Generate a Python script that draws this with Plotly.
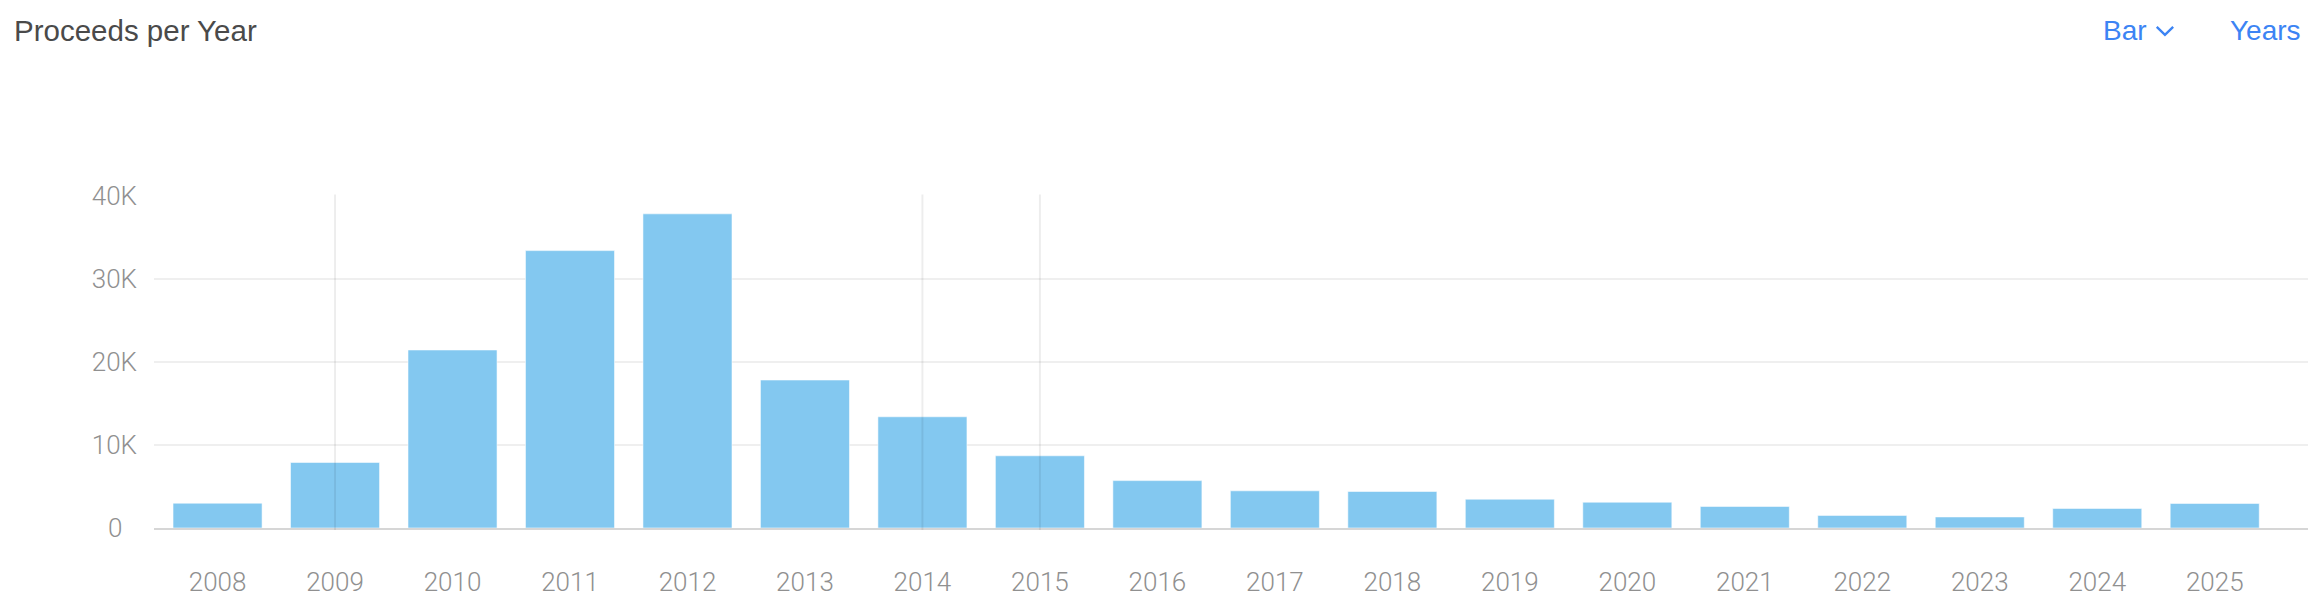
import plotly.graph_objects as go

# ---- data ----
years = [str(y) for y in range(2008, 2026)]
proceeds = [2990, 7900, 21450, 33420, 37850, 17830, 13400, 8700, 5710, 4480,
            4400, 3470, 3110, 2600, 1520, 1330, 2360, 2960]
event_years = ["2009", "2014", "2015"]
y_ticks = [0, 10000, 20000, 30000, 40000]
y_tick_labels = ["0\u2007", "10K", "20K", "30K", "40K"]

title_text = "Proceeds per Year"
ctrl_left = "Bar"
ctrl_right = "Years"

# the page body adds an 8px offset; work in screen pixels and convert
OFF = 8
W, H = 2316 - OFF, 606 - OFF
L, R, T, B = 154.3 - OFF, 2307.7 - OFF, 195.7 - OFF, 529.8 - OFF   # plot area in figure pixels
PW, PH = R - L, B - T

def px(x):
    return (x - OFF - L) / PW

def py(y):
    return (B - (y - OFF)) / PH

BAR_COLOR = "#83C8F0"
BLUE = "#3C84F4"
TICK_GRAY = "#909090"
TICK_FONT = "Roboto"
UI_FONT = "Liberation Sans"

fig = go.Figure()
fig.add_trace(go.Bar(
    x=years, y=proceeds,
    marker=dict(color=BAR_COLOR, line=dict(color="rgba(255,255,255,0.55)", width=1)),
    hoverinfo="x+y",
))

shapes = []
for ey in event_years:
    i = years.index(ey)
    shapes.append(dict(type="line", xref="x", yref="paper", x0=i, x1=i,
                       y0=py(531.7), y1=py(194.3),
                       line=dict(color="rgba(0,0,0,0.07)", width=2), layer="above"))
# dropdown chevron icon
shapes.append(dict(type="path", xref="paper", yref="paper",
                   path=f"M {px(2156.5)} {py(25.5)} L {px(2164.7)} {py(33.5)} L {px(2172.9)} {py(25.5)}",
                   line=dict(color=BLUE, width=2.4)))

annotations = [
    dict(text=ctrl_left, xref="paper", yref="paper", x=px(2101), y=py(29.5),
         xanchor="left", yanchor="middle", showarrow=False,
         font=dict(family=UI_FONT, size=28, color=BLUE)),
    dict(text=ctrl_right, xref="paper", yref="paper", x=px(2228), y=py(29.5),
         xanchor="left", yanchor="middle", showarrow=False,
         font=dict(family=UI_FONT, size=28, color=BLUE)),
]

fig.update_layout(
    width=W, height=H,
    margin=dict(l=L, r=W - R, t=T, b=H - B, pad=0),
    paper_bgcolor="white", plot_bgcolor="white",
    showlegend=False,
    bargap=0.242,
    title=dict(text=title_text, xref="container", yref="container",
               x=(14 - OFF) / W, xanchor="left", y=1 - (31 - OFF) / H, yanchor="middle",
               font=dict(family=UI_FONT, size=29.5, color="#4a4a4a")),
    shapes=shapes,
    annotations=annotations,
    xaxis=dict(
        type="category",
        range=[-0.541, 17.794],
        showgrid=False, zeroline=False,
        showline=True, linecolor="#d6d6d6", linewidth=2,
        ticks="", ticklabelstandoff=30,
        tickfont=dict(family=TICK_FONT, size=26, color=TICK_GRAY, weight=300),
        fixedrange=True,
    ),
    yaxis=dict(
        range=[0, 40000],
        tickvals=y_ticks, ticktext=y_tick_labels,
        showgrid=True, gridcolor="#efefef", gridwidth=2,
        zeroline=False, showline=False,
        ticks="", ticklabelstandoff=16,
        tickfont=dict(family=TICK_FONT, size=26, color=TICK_GRAY, weight=300),
        fixedrange=True,
    ),
)

fig.write_html("out.html")
